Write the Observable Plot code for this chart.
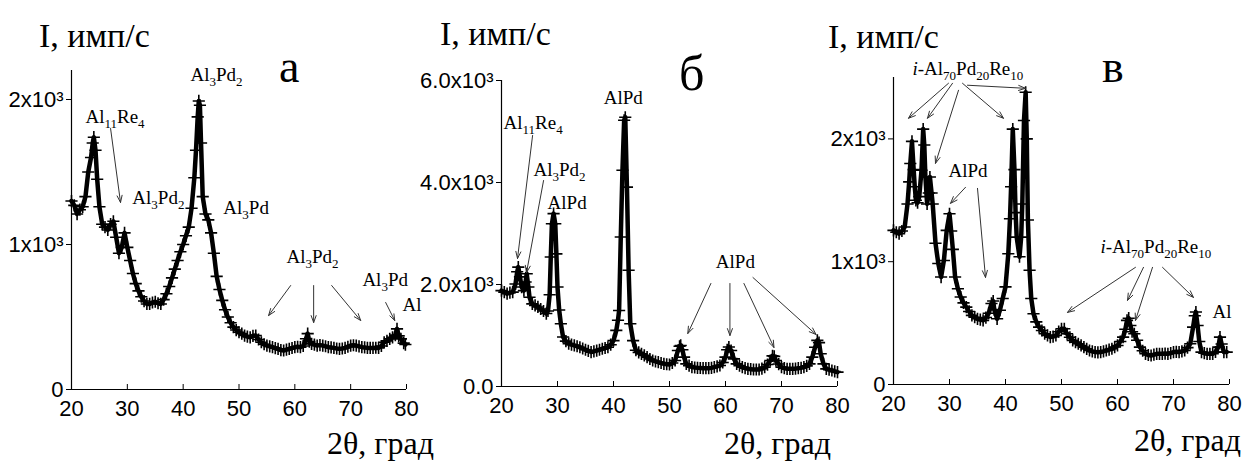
<!DOCTYPE html>
<html><head><meta charset="utf-8">
<script src="https://cdn.jsdelivr.net/npm/d3@7"></script>
<script src="https://cdn.jsdelivr.net/npm/@observablehq/plot@0.6"></script>
<style>
body{margin:0;background:#fff}
#wrap{position:relative;width:1250px;height:464px;background:#fff;overflow:hidden}
#wrap > svg{position:absolute}
</style></head><body><div id="wrap"></div>
<script>
// ---------- Panel а ----------
const aTheta=[20,20.5,21,21.5,22,22.5,23,23.5,23.8,24,24.3,24.6,25,25.5,26,26.5,27,27.5,28,28.5,29,29.5,30,30.5,31,31.5,32,32.5,33,33.5,34,34.5,35,35.5,36,36.5,37,37.5,38,38.5,39,39.5,40,40.5,41,41.5,42,42.3,42.6,42.8,43,43.2,43.5,44,44.5,45,45.5,46,46.5,47,47.5,48,48.5,49,49.5,50,50.5,51,51.5,52,52.5,53,53.5,54,54.5,55,55.5,56,56.5,57,57.5,58,58.5,59,59.5,60,60.5,61,61.5,62,62.3,62.6,63,63.5,64,64.5,65,65.5,66,66.5,67,67.5,68,68.5,69,69.5,70,70.5,71,71.5,72,72.5,73,73.5,74,74.5,75,75.5,76,76.5,77,77.5,78,78.3,78.6,79,79.5,79.8];
const aI=[1300,1270,1210,1240,1260,1330,1500,1600,1700,1740,1650,1450,1260,1140,1120,1100,1140,1160,1050,940,980,1080,980,890,800,730,680,640,610,590,590,600,605,595,590,620,660,710,770,830,890,950,1000,1060,1120,1250,1460,1650,1880,1990,1960,1700,1330,1210,1170,1080,940,780,690,615,550,500,460,430,410,395,385,372,365,360,370,372,345,326,312,303,297,292,285,280,272,269,275,280,286,292,295,292,300,350,385,330,315,310,303,306,303,298,292,290,287,283,280,283,287,295,303,305,303,297,292,290,287,287,287,288,287,300,326,335,349,360,375,418,370,349,320,310];
const aYTicks=[0,1000,2000];
const aLabels=["Al_{3}Pd_{2}","Al_{11}Re_{4}","Al_{3}Pd_{2}","Al_{3}Pd","Al_{3}Pd_{2}","Al_{3}Pd","Al"];
const aLabelX=[41.3,22.5,30.9,47.2,58.5,72.1,79.3];
const aLabelY=[2172,1883,1324,1255,917,759,586];
const aArrX1=[27.0,59.25,63.37,66.6,76.27];
const aArrY1=[1800,717,717,717,600];
const aArrX2=[28.78,55.3,63.37,71.79,77.89];
const aArrY2=[1290,510,462,476,476];

// ---------- Panel б ----------
const bTheta=[20,20.5,21,21.5,22,22.5,22.8,23,23.3,23.6,24,24.3,24.5,24.8,25,25.5,26,26.5,27,27.5,28,28.3,28.6,28.8,29,29.3,29.6,29.8,30,30.3,30.6,31,31.5,32,32.5,33,33.5,34,34.5,35,35.5,36,36.5,37,37.5,38,38.5,39,39.5,40,40.5,40.8,41,41.3,41.6,41.9,42.1,42.4,42.7,43,43.5,44,44.5,45,45.5,46,46.5,47,47.5,48,48.5,49,49.5,50,50.5,51,51.5,51.8,52,52.3,52.6,53,53.5,54,54.5,55,55.5,56,56.5,57,57.5,58,58.5,59,59.5,60,60.3,60.6,61,61.5,62,62.5,63,63.5,64,64.5,65,65.5,66,66.5,67,67.5,68,68.4,68.7,69,69.5,70,70.5,71,71.5,72,72.5,73,73.5,74,74.5,75,75.5,76,76.4,76.7,77,77.5,78,78.5,79,79.5,80];
const bI=[1880,1850,1820,1840,1850,2010,2250,2340,2150,1950,1880,2050,2210,1950,1750,1620,1590,1560,1520,1480,1430,1480,1800,2540,3190,3390,3190,2600,1950,1500,1230,970,890,840,820,805,790,770,745,720,700,675,690,705,720,740,755,770,820,900,1100,1300,1490,2930,4240,5220,5280,3910,2280,1230,900,710,670,640,610,575,540,510,490,477,460,444,437,431,460,510,706,790,805,720,575,444,410,380,372,366,362,359,359,359,365,379,395,412,470,575,720,775,706,542,444,410,379,360,346,340,333,333,333,350,379,430,510,600,590,510,440,379,360,346,346,346,350,359,365,379,405,444,575,771,905,860,641,444,346,330,314,295,281];
const bYTicks=[0,2000,4000,6000];
const bLabels=["Al_{11}Re_{4}","Al_{3}Pd_{2}","AlPd","AlPd","AlPd"];
const bLabelX=[20.36,25.72,28.23,38.25,58.28];
const bLabelY=[5176,4255,3608,5667,2451];
const bArrX1=[25.55,27.51,57.39,60.79,63.29,64.9];
const bArrY1=[4922,4039,2020,2020,2020,2137];
const bArrX2=[22.86,24.47,53.27,60.79,68.66,76.17];
const bArrY2=[2510,2235,1039,1000,765,1020];

// ---------- Panel в ----------
const cTheta=[20,20.5,21,21.5,22,22.5,22.8,23,23.3,23.6,23.8,24,24.3,24.6,25,25.3,25.5,25.7,26,26.3,26.5,26.8,27,27.5,28,28.5,29,29.5,30,30.3,30.6,31,31.5,32,32.5,33,33.5,34,34.5,35,35.5,36,36.5,37,37.5,37.8,38,38.5,39,39.5,40,40.5,40.8,41,41.3,41.6,41.8,42,42.5,42.8,43,43.3,43.6,43.8,44,44.3,44.6,45,45.5,46,46.5,47,47.5,48,48.5,49,49.5,50,50.5,51,51.5,52,52.5,53,53.5,54,54.5,55,55.5,56,56.5,57,57.5,58,58.5,59,59.5,60,60.5,61,61.4,61.7,62,62.3,62.6,63,63.5,64,64.5,65,65.5,66,66.5,67,67.5,68,68.5,69,69.5,70,70.5,71,71.5,72,72.5,73,73.5,73.8,74,74.3,74.6,75,75.5,76,76.5,77,77.5,78,78.3,78.6,79,79.5];
const cI=[1255,1240,1228,1250,1283,1470,1650,1800,1980,1750,1610,1500,1480,1530,1745,2080,1950,1690,1470,1560,1690,1560,1470,1150,985,875,1010,1255,1390,1250,1100,875,780,712,665,630,595,563,548,535,528,522,545,580,660,680,610,535,605,700,795,1065,1350,1610,2080,1750,1400,1200,1040,1200,1470,2150,2380,2000,1340,930,700,576,510,467,440,413,400,386,390,400,430,454,454,413,385,359,345,332,318,304,290,277,270,264,262,264,270,277,284,291,305,318,350,386,450,522,540,480,430,413,360,304,275,250,240,236,243,250,250,250,252,250,256,264,266,264,270,277,300,332,467,560,590,480,350,264,255,250,250,250,265,304,386,330,264,264];
const cYTicks=[0,1000,2000];
const cLabels=["*i*-Al_{70}Pd_{20}Re_{10}","AlPd","*i*-Al_{70}Pd_{20}Re_{10}","Al"];
const cLabelX=[23.39,29.82,56.96,76.96];
const cLabelY=[2567,1736,1117,595];
const cArrX1=[29.82,30.54,31.61,32.32,33.21,32.86,35.0,63.21,64.64,66.25,68.04];
const cArrY1=[2453,2453,2396,2453,2437,1606,1597,954,954,954,954];
const cArrX2=[22.68,26.07,27.5,39.64,43.57,30.18,36.43,51.07,61.79,63.21,73.57];
const cArrY2=[2168,2168,1801,2168,2412,1475,872,587,685,522,709];

const xTicks=[20,30,40,50,60,70,80];
const titleText="I, имп/с";
const xTitleText="2θ, град";
const panelLetters=["а","б","в"];

const SUP="\u00B3";
const SERIF="'Liberation Serif','Times New Roman',serif";
const SANS="'Liberation Sans',Arial,sans-serif";

function zip(xs,ys){return xs.map((x,i)=>({t:x,v:ys[i]}));}
function labels(ts,xs,ys){return ts.map((t,i)=>({s:t,t:xs[i],v:ys[i]}));}
function arrows(x1,y1,x2,y2){return x1.map((d,i)=>({x1:d,y1:y1[i],x2:x2[i],y2:y2[i]}));}

function panel(o){
  const data=zip(o.theta,o.I);
  const p=Plot.plot({
    width:o.width,height:464,
    marginLeft:o.ml,marginRight:o.mr,marginTop:o.mt,marginBottom:o.mb,
    style:{background:"transparent",fontFamily:SANS,fontSize:"22px",color:"black",overflow:"visible"},
    x:{domain:[20,80],ticks:xTicks,tickSize:-5,tickPadding:16,label:null,tickFormat:d=>String(d)},
    y:{domain:[0,o.ymax],ticks:o.yTicks,tickSize:5,tickPadding:3,label:null,tickFormat:o.fmt},
    marks:[
      Plot.ruleX([20],{stroke:"black",strokeWidth:1.2}),
      Plot.ruleY([0],{stroke:"black",strokeWidth:1.2}),
      Plot.line(data,{x:"t",y:"v",stroke:"black",strokeWidth:4.5}),
      Plot.dot(data,{x:"t",y:"v",symbol:"plus",r:4,stroke:"black",strokeWidth:1.6}),
      Plot.arrow(o.arrows,{x1:"x1",y1:"y1",x2:"x2",y2:"y2",stroke:"#333",strokeWidth:1,headLength:11,headAngle:40}),
      Plot.text(o.labels,{x:"t",y:"v",text:"s",textAnchor:"start",lineAnchor:"middle",fontFamily:SERIF,fontSize:19,fill:"black"})
    ]
  });
  p.style.left=o.left+"px"; p.style.top="0px";
  richify(p);
  return p;
}

function richify(svg){
  const NS="http://www.w3.org/2000/svg";
  svg.querySelectorAll('g[aria-label="text"] text').forEach(t=>{
    const s=t.textContent;
    if(!/[_*]/.test(s)) return;
    t.textContent="";
    const re=/_\{([^}]*)\}|\*([^*]*)\*|([^_*]+)/g; let m, cur=0;
    while((m=re.exec(s))){
      const ts=document.createElementNS(NS,"tspan");
      if(m[1]!==undefined){ts.textContent=m[1];ts.setAttribute("font-size","13");ts.setAttribute("dy",String(5-cur));cur=5;}
      else if(m[2]!==undefined){ts.textContent=m[2];ts.setAttribute("font-style","italic");ts.setAttribute("dy",String(-cur));cur=0;}
      else {ts.textContent=m[3];ts.setAttribute("dy",String(-cur));cur=0;}
      t.appendChild(ts);
    }
  });
}

const wrap=document.getElementById("wrap");
wrap.appendChild(panel({theta:aTheta,I:aI,ymax:2200,yTicks:aYTicks,fmt:d=>d===0?"0":(d/1000)+"x10"+SUP,
  left:0,width:425,ml:71,mr:19,mt:70,mb:75,labels:labels(aLabels,aLabelX,aLabelY),arrows:arrows(aArrX1,aArrY1,aArrX2,aArrY2)}));
wrap.appendChild(panel({theta:bTheta,I:bI,ymax:6000,yTicks:bYTicks,fmt:d=>d===0?"0.0":(d/1000).toFixed(1)+"x10"+SUP,
  left:425,width:420,ml:76,mr:8,mt:80,mb:78,labels:labels(bLabels,bLabelX,bLabelY),arrows:arrows(bArrX1,bArrY1,bArrX2,bArrY2)}));
wrap.appendChild(panel({theta:cTheta,I:cI,ymax:2500,yTicks:cYTicks,fmt:d=>d===0?"0":(d/1000)+"x10"+SUP,
  left:845,width:405,ml:48,mr:21,mt:77,mb:80,labels:labels(cLabels,cLabelX,cLabelY),arrows:arrows(cArrX1,cArrY1,cArrX2,cArrY2)}));

// overlay titles
const ov=d3.select(wrap).append("svg").attr("width",1250).attr("height",464).style("left","0px").style("top","0px").style("pointer-events","none");
const titles=[{x:39,y:47},{x:440,y:45},{x:828,y:48}];
ov.selectAll("text.t").data(titles).join("text").attr("x",d=>d.x).attr("y",d=>d.y).attr("font-family",SERIF).attr("font-size",34).text(titleText);
const xt=[{x:327,y:454},{x:724,y:454},{x:1134,y:451}];
ov.selectAll("text.xt").data(xt).join("text").attr("x",d=>d.x).attr("y",d=>d.y).attr("font-family",SERIF).attr("font-size",32).text(xTitleText);
const pl=[{x:279,y:82,s:46},{x:679,y:90,s:50},{x:1102,y:82,s:46}];
ov.selectAll("text.pl").data(pl).join("text").attr("x",d=>d.x).attr("y",d=>d.y).attr("font-family",SERIF).attr("font-size",d=>d.s).text((d,i)=>panelLetters[i]);
</script></body></html>
